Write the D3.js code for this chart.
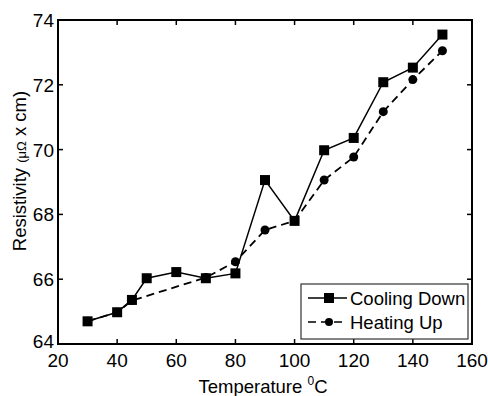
<!DOCTYPE html>
<html>
<head>
<meta charset="utf-8">
<script src="https://cdn.jsdelivr.net/npm/d3@7"></script>
<style>
  body { margin: 0; background: #fff; }
  text { font-family: "Liberation Sans", Arial, sans-serif; fill: #000; }
</style>
</head>
<body>
<script>
// data
var coolT = [30, 40, 45, 50, 60, 70, 80, 90, 100, 110, 120, 130, 140, 150];
var coolR = [64.7, 64.98, 65.36, 66.03, 66.22, 66.03, 66.18, 69.06, 67.8, 69.98, 70.36, 72.08, 72.53, 73.55];
var heatT = [30, 40, 45, 70, 80, 90, 100, 110, 120, 130, 140, 150];
var heatR = [64.7, 64.98, 65.34, 66.05, 66.54, 67.52, 67.8, 69.06, 69.77, 71.17, 72.16, 73.05];
var xTicks = [20, 40, 60, 80, 100, 120, 140, 160];
var yTicks = [64, 66, 68, 70, 72, 74];

var W = 488, H = 396;
var m = {left: 58, top: 20, right: 472, bottom: 344};

var svg = d3.select('body').append('svg')
    .attr('width', W)
    .attr('height', H);

var x = d3.scaleLinear().domain([20, 160]).range([m.left, m.right]);
var y = d3.scaleLinear().domain([64, 74]).range([m.bottom, m.top]);

// ticks, pointing inwards, on all four sides
var tl = 5;
var g = svg.append('g').attr('stroke', '#000').attr('stroke-width', 1.5);
xTicks.forEach(function(t) {
  g.append('line').attr('x1', x(t)).attr('x2', x(t)).attr('y1', m.bottom).attr('y2', m.bottom - tl);
  g.append('line').attr('x1', x(t)).attr('x2', x(t)).attr('y1', m.top).attr('y2', m.top + tl);
});
yTicks.forEach(function(t) {
  g.append('line').attr('x1', m.left).attr('x2', m.left + tl).attr('y1', y(t)).attr('y2', y(t));
  g.append('line').attr('x1', m.right).attr('x2', m.right - tl).attr('y1', y(t)).attr('y2', y(t));
});

svg.selectAll('.xl').data(xTicks).enter().append('text')
    .attr('x', function(d) { return x(d); })
    .attr('y', m.bottom + 23)
    .attr('text-anchor', 'middle')
    .style('font-size', '19px')
    .text(function(d) { return d; });

svg.selectAll('.yl').data(yTicks).enter().append('text')
    .attr('x', m.left - 4)
    .attr('y', function(d) { return y(d) + (d == 64 ? 4 : 7); })
    .attr('text-anchor', 'end')
    .style('font-size', '19px')
    .text(function(d) { return d; });

// axis labels
var xt = svg.append('text')
    .attr('x', 263).attr('y', 393)
    .attr('text-anchor', 'middle')
    .style('font-size', '18.5px');
xt.append('tspan').text('Temperature ');
xt.append('tspan').attr('dy', -8).style('font-size', '12px').text('0');
xt.append('tspan').attr('dy', 8).text('C');

var yt = svg.append('text')
    .attr('transform', 'translate(26,171) rotate(-90)')
    .attr('text-anchor', 'middle')
    .style('font-size', '18.5px');
yt.append('tspan').text('Resistivity ');
yt.append('tspan').style('font-size', '13px').text('(μΩ');
yt.append('tspan').text(' x cm)');

// lines
var line = d3.line();
var coolPts = coolT.map(function(t, i) { return [x(t), y(coolR[i])]; });
var heatPts = heatT.map(function(t, i) { return [x(t), y(heatR[i])]; });

svg.append('path').attr('d', line(heatPts))
    .attr('fill', 'none').attr('stroke', '#000').attr('stroke-width', 1.8)
    .attr('stroke-dasharray', '8,5');
svg.append('path').attr('d', line(coolPts))
    .attr('fill', 'none').attr('stroke', '#000').attr('stroke-width', 1.5);

svg.selectAll('.hc').data(heatPts).enter().append('circle')
    .attr('cx', function(d) { return d[0]; })
    .attr('cy', function(d) { return d[1]; })
    .attr('r', 4.5).attr('fill', '#000');

var s = 10;
svg.selectAll('.cs').data(coolPts).enter().append('rect')
    .attr('x', function(d) { return d[0] - s / 2; })
    .attr('y', function(d) { return d[1] - s / 2; })
    .attr('width', s).attr('height', s).attr('fill', '#000');

// frame
svg.append('rect')
    .attr('x', m.left).attr('y', m.top)
    .attr('width', m.right - m.left).attr('height', m.bottom - m.top)
    .attr('fill', 'none').attr('stroke', '#000').attr('stroke-width', 2);

// legend
var lg = svg.append('g');
lg.append('rect').attr('x', 301).attr('y', 284).attr('width', 167).attr('height', 55)
    .attr('fill', '#fff').attr('stroke', '#333').attr('stroke-width', 1.2);
lg.append('line').attr('x1', 308).attr('x2', 347).attr('y1', 298).attr('y2', 298)
    .attr('stroke', '#000').attr('stroke-width', 1.5);
lg.append('rect').attr('x', 324).attr('y', 293).attr('width', 10).attr('height', 10).attr('fill', '#000');
lg.append('line').attr('x1', 308).attr('x2', 347).attr('y1', 322).attr('y2', 322)
    .attr('stroke', '#000').attr('stroke-width', 1.5).attr('stroke-dasharray', '8,5');
lg.append('circle').attr('cx', 329).attr('cy', 322).attr('r', 4).attr('fill', '#000');
lg.append('text').attr('x', 350).attr('y', 305).style('font-size', '18.5px').text('Cooling Down');
lg.append('text').attr('x', 350).attr('y', 329).style('font-size', '18.5px').text('Heating Up');
</script>
</body>
</html>
